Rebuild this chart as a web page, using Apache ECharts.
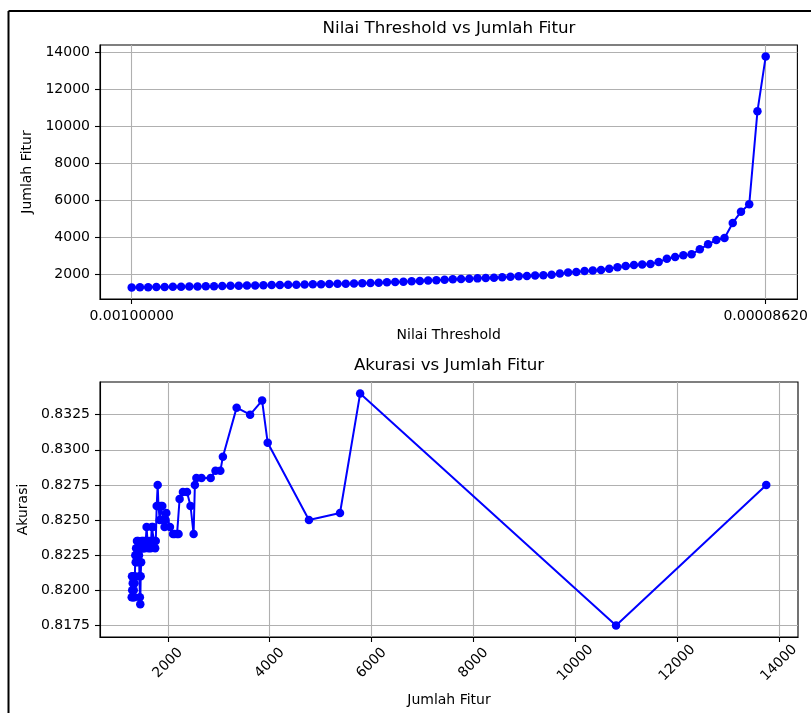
<!DOCTYPE html>
<html>
<head>
<meta charset="utf-8">
<script src="https://cdn.jsdelivr.net/npm/echarts@6/dist/echarts.min.js"></script>
<style>
  html, body { margin: 0; padding: 0; background: #fff; }
  #chart { width: 811px; height: 713px; }
</style>
</head>
<body>
<div id="chart"></div>
<script>
// jumlah fitur per threshold (urut dari threshold terbesar ke terkecil)
const featureCounts = [
  1290, 1295, 1300, 1310, 1315, 1322, 1330, 1338, 1345, 1352,
  1360, 1368, 1376, 1385, 1393, 1400, 1408, 1416, 1425, 1433,
  1442, 1450, 1458, 1466, 1475, 1484, 1494, 1505, 1518, 1532,
  1548, 1565, 1582, 1600, 1620, 1640, 1662, 1684, 1705, 1728,
  1750, 1762, 1780, 1800, 1815, 1840, 1865, 1890, 1910, 1935,
  1955, 1970, 2040, 2100, 2130, 2180, 2210, 2230, 2295, 2375,
  2445, 2505, 2530, 2560, 2660, 2840, 2935, 3030, 3080, 3350,
  3615, 3850, 3960, 4770, 5380, 5775, 10800, 13750
]
// akurasi untuk tiap threshold
const accuracies = [
  0.8195, 0.8210, 0.8200, 0.8205, 0.8195, 0.8210, 0.8200, 0.8195, 0.8205, 0.8210,
  0.8225, 0.8220, 0.8230, 0.8225, 0.8235, 0.8230, 0.8220, 0.8235, 0.8230, 0.8225,
  0.8210, 0.8195, 0.8190, 0.8210, 0.8220, 0.8235, 0.8230, 0.8235, 0.8230, 0.8235,
  0.8230, 0.8235, 0.8245, 0.8235, 0.8230, 0.8235, 0.8230, 0.8245, 0.8245, 0.8235,
  0.8230, 0.8235, 0.8260, 0.8275, 0.8260, 0.8250, 0.8260, 0.8260, 0.8250, 0.8245,
  0.8250, 0.8255, 0.8245, 0.8240, 0.8240, 0.8240, 0.8240, 0.8265, 0.8270, 0.8270,
  0.8260, 0.8240, 0.8275, 0.8280, 0.8280, 0.8280, 0.8285, 0.8285, 0.8295, 0.8330,
  0.8325, 0.8335, 0.8305, 0.8250, 0.8255, 0.8340, 0.8175, 0.8275
]
const thresholdLabels = ['0.00100000', '0.00008620']
const countTicks = [2000, 4000, 6000, 8000, 10000, 12000, 14000]
const accTicks = [0.8175, 0.82, 0.8225, 0.825, 0.8275, 0.83, 0.8325]

const FONT = 'DejaVu Sans'
const BLUE = '#0000ff'

const chart = echarts.init(document.getElementById('chart'))

// margin 5% seperti matplotlib
const pad = (arr) => {
  const lo = Math.min(...arr), hi = Math.max(...arr)
  const m = (hi - lo) * 0.05
  return [lo - m, hi + m]
}
const last = featureCounts.length - 1
const idxRange = [-last * 0.05, last * 1.05]
const countRange = pad(featureCounts)
const accRange = pad(accuracies)

const axisLine = { show: true, onZero: false, lineStyle: { color: '#000', width: 1.1 } }
const tickStyle = { show: true, length: 5, lineStyle: { color: '#000', width: 1.1 } }
const gridLine = { show: true, lineStyle: { color: '#b0b0b0', width: 1.1 } }
const labelStyle = { color: '#000', fontFamily: FONT, fontSize: 14, margin: 10 }
const nameStyle = { color: '#000', fontFamily: FONT, fontSize: 14 }
const plain = (v) => String(v)

const option = {
  animation: false,
  backgroundColor: '#fff',
  title: [
    {
      text: 'Nilai Threshold vs Jumlah Fitur',
      left: 449, top: 20, textAlign: 'center', padding: 0,
      textStyle: { color: '#000', fontFamily: FONT, fontSize: 16.7, fontWeight: 'normal' }
    },
    {
      text: 'Akurasi vs Jumlah Fitur',
      left: 449, top: 357, textAlign: 'center', padding: 0,
      textStyle: { color: '#000', fontFamily: FONT, fontSize: 16.7, fontWeight: 'normal' }
    }
  ],
  grid: [
    { left: 100, top: 45, width: 698, height: 254, show: true, borderColor: '#000', borderWidth: 1.1, backgroundColor: 'transparent' },
    { left: 100, top: 382, width: 698, height: 255, show: true, borderColor: '#000', borderWidth: 1.1, backgroundColor: 'transparent' }
  ],
  xAxis: [
    {
      gridIndex: 0, type: 'value', min: idxRange[0], max: idxRange[1],
      name: 'Nilai Threshold', nameLocation: 'middle', nameGap: 29, nameTextStyle: nameStyle,
      axisLine: axisLine,
      axisTick: Object.assign({ customValues: [0, last] }, tickStyle),
      splitLine: gridLine,
      axisLabel: Object.assign({
        customValues: [0, last],
        formatter: (v) => (v === 0 ? thresholdLabels[0] : thresholdLabels[1])
      }, labelStyle)
    },
    {
      gridIndex: 1, type: 'value', min: countRange[0], max: countRange[1],
      name: 'Jumlah Fitur', nameLocation: 'middle', nameGap: 56, nameTextStyle: nameStyle,
      axisLine: axisLine,
      axisTick: Object.assign({ customValues: countTicks }, tickStyle),
      splitLine: gridLine,
      axisLabel: Object.assign({}, labelStyle, {
        customValues: countTicks, formatter: plain,
        rotate: 45, align: 'center', verticalAlign: 'middle', margin: 26
      })
    }
  ],
  yAxis: [
    {
      gridIndex: 0, type: 'value', min: countRange[0], max: countRange[1],
      name: 'Jumlah Fitur', nameLocation: 'middle', nameGap: 64, nameTextStyle: nameStyle,
      axisLine: axisLine,
      axisTick: Object.assign({ customValues: countTicks }, tickStyle),
      splitLine: gridLine,
      axisLabel: Object.assign({ customValues: countTicks, formatter: plain }, labelStyle)
    },
    {
      gridIndex: 1, type: 'value', min: accRange[0], max: accRange[1],
      name: 'Akurasi', nameLocation: 'middle', nameGap: 69, nameTextStyle: nameStyle,
      axisLine: axisLine,
      axisTick: Object.assign({ customValues: accTicks }, tickStyle),
      splitLine: gridLine,
      axisLabel: Object.assign({
        customValues: accTicks,
        formatter: (v) => v.toFixed(4)
      }, labelStyle)
    }
  ],
  graphic: [
    { type: 'line', shape: { x1: 8.5, y1: 11, x2: 8.5, y2: 713 }, style: { stroke: '#000', lineWidth: 2 } },
    { type: 'line', shape: { x1: 8.5, y1: 11, x2: 811, y2: 11 }, style: { stroke: '#000', lineWidth: 2 } }
  ],
  series: [
    {
      type: 'line', xAxisIndex: 0, yAxisIndex: 0,
      data: featureCounts.map((c, i) => [i, c]),
      symbol: 'circle', symbolSize: 8.5, showSymbol: true,
      itemStyle: { color: BLUE },
      lineStyle: { color: BLUE, width: 2 }
    },
    {
      type: 'line', xAxisIndex: 1, yAxisIndex: 1,
      data: featureCounts.map((c, i) => [c, accuracies[i]]),
      symbol: 'circle', symbolSize: 8.5, showSymbol: true,
      itemStyle: { color: BLUE },
      lineStyle: { color: BLUE, width: 2 }
    }
  ]
}
chart.setOption(option)
</script>
</body>
</html>
